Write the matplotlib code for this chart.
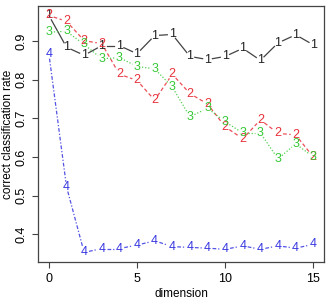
import numpy as np
import matplotlib
matplotlib.use("Agg")
import matplotlib.pyplot as plt

dimension = list(range(16))
rate1 = [0.966, 0.884, 0.863, 0.888, 0.888, 0.867, 0.914, 0.917, 0.860, 0.852, 0.860, 0.881, 0.850, 0.895, 0.916, 0.890]
rate2 = [0.966, 0.951, 0.901, 0.893, 0.814, 0.798, 0.747, 0.814, 0.764, 0.737, 0.678, 0.647, 0.696, 0.661, 0.657, 0.600]
rate3 = [0.923, 0.925, 0.891, 0.854, 0.857, 0.834, 0.828, 0.781, 0.704, 0.726, 0.691, 0.662, 0.662, 0.595, 0.634, 0.600]
rate4 = [0.867, 0.523, 0.353, 0.363, 0.363, 0.372, 0.383, 0.368, 0.366, 0.364, 0.361, 0.370, 0.361, 0.370, 0.364, 0.374]
series = [("1", rate1), ("2", rate2), ("3", rate3), ("4", rate4)]
xticks = [0, 5, 10, 15]
yticks = [0.4, 0.5, 0.6, 0.7, 0.8, 0.9]

plt.rcParams['font.family'] = ['Liberation Sans', 'DejaVu Sans']
colors = ["#222222", "#E8303A", "#35C835", "#3535E0"]
styles = ["-", (0, (3, 2)), (0, (1, 1.5)), (0, (3, 1.5, 1, 1.5))]

fig = plt.figure(figsize=(3.26, 3.0), dpi=100)
ax = fig.add_axes([0.1175, 0.127, 0.876, 0.853])
xmin, xmax = 0, 15
ymin, ymax = 0.353, 0.966
dx = (xmax - xmin) * 0.04
dy = (ymax - ymin) * 0.04
ax.set_xlim(xmin - dx, xmax + dx)
ax.set_ylim(ymin - dy, ymax + dy)

fig.canvas.draw()
inv = ax.transData.inverted()
gap = 5.0
for (lab, vals), c, ls in zip(series, colors, styles):
    pts = ax.transData.transform(np.column_stack([dimension, vals]))
    for i in range(len(pts) - 1):
        p0, p1 = pts[i], pts[i + 1]
        d = p1 - p0
        L = np.hypot(*d)
        if L <= 2 * gap:
            continue
        u = d / L
        a = inv.transform(p0 + u * gap)
        b = inv.transform(p1 - u * gap)
        ax.plot([a[0], b[0]], [a[1], b[1]], color=c, linestyle=ls, lw=0.9, alpha=0.85)
    for x, y in zip(dimension, vals):
        ax.text(x, y, lab, color=c, fontsize=9, ha="center", va="center")

ax.set_xticks(xticks)
ax.set_yticks(yticks)
ax.set_yticklabels([f"{v:.1f}" for v in yticks], rotation=90, va="center")
ax.tick_params(direction="out", length=4, width=0.8, labelsize=9, color="#444444", pad=4)
for s in ax.spines.values():
    s.set_color("#444444")
    s.set_linewidth(0.9)
ax.set_xlabel("dimension", fontsize=8.5, va="center")
ax.set_ylabel("correct classification rate", fontsize=8.5, va="center")
ax.xaxis.set_label_coords(0.5, -0.125)
ax.yaxis.set_label_coords(-0.105, 0.5)
fig.savefig("out.png", dpi=100)
